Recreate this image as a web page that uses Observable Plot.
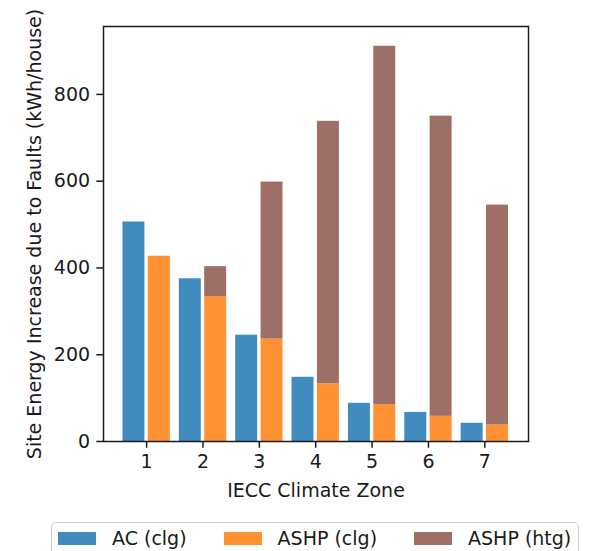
<!DOCTYPE html>
<html>
<head>
<meta charset="utf-8">
<script src="https://cdn.jsdelivr.net/npm/d3@7"></script>
<script src="https://cdn.jsdelivr.net/npm/@observablehq/plot@0.6"></script>
<style>
  html, body { margin: 0; padding: 0; background: #fff; }
  #wrap { position: relative; width: 593px; height: 551px; overflow: hidden; font-family: "DejaVu Sans", sans-serif; }
  #legend {
    position: absolute; left: 51px; top: 522px; width: 528px; height: 48px;
    border: 1px solid #cccccc; border-radius: 5px; box-sizing: border-box;
    display: flex; flex-wrap: nowrap; align-items: flex-start; padding: 8px 0 0 6px;
    font-size: 19px; color: #1a1a1a; background: #fff; white-space: nowrap;
  }
  .item { display: flex; flex-shrink: 0; align-items: center; margin-right: 37px; line-height: 15px; white-space: nowrap; }
  .sw { width: 38px; height: 13px; margin-right: 16px; flex-shrink: 0; }
</style>
</head>
<body>
<div id="wrap"><div id="chart"></div><div id="legend"></div></div>
<script>
const zones = [1, 2, 3, 4, 5, 6, 7];
const acClg = [506, 375, 245, 148, 88, 67, 42];
const ashpClg = [427, 334, 236, 133, 85, 58, 38];
const ashpHtg = [0, 69, 362, 605, 826, 692, 507];
const yTicks = [0, 200, 400, 600, 800];
const seriesNames = ["AC (clg)", "ASHP (clg)", "ASHP (htg)"];
const seriesColors = ["#418bbf", "#ff9232", "#9d6f66"];

const barWidth = 0.45;
const rows = zones.map((z, i) => ({zone: z, ac: acClg[i], clg: ashpClg[i], htg: ashpHtg[i], total: ashpClg[i] + ashpHtg[i]}));
const ymax = d3.max(rows, d => Math.max(d.ac, d.total)) * 1.05;
const ink = "#1a1a1a";

const chart = Plot.plot({
  width: 593,
  height: 515,
  marginLeft: 103,
  marginRight: 65,
  marginTop: 26,
  marginBottom: 74,
  style: {fontFamily: "DejaVu Sans", fontSize: "19px", color: ink, background: "#fff"},
  x: {type: "linear", domain: [0.235, 7.775]},
  y: {domain: [0, ymax]},
  marks: [
    Plot.rectY(rows, {x1: d => d.zone - barWidth, x2: d => d.zone, y1: 0, y2: "ac", fill: seriesColors[0], insetLeft: 1.7, insetRight: 1.7}),
    Plot.rectY(rows, {x1: d => d.zone, x2: d => d.zone + barWidth, y1: 0, y2: "clg", fill: seriesColors[1], insetLeft: 1.7, insetRight: 1.7}),
    Plot.rectY(rows.filter(d => d.htg > 0), {x1: d => d.zone, x2: d => d.zone + barWidth, y1: "clg", y2: "total", fill: seriesColors[2], insetLeft: 1.7, insetRight: 1.7}),
    Plot.frame({stroke: ink, strokeWidth: 1.5}),
    Plot.axisX({ticks: zones, tickFormat: d => String(d), tickSize: 6.7, tickPadding: 6, strokeWidth: 1.5, stroke: ink,
      label: "IECC Climate Zone", labelAnchor: "center", labelOffset: 55, labelArrow: "none"}),
    Plot.axisY({ticks: yTicks, tickFormat: d => String(d), tickSize: 6.7, tickPadding: 6.7, strokeWidth: 1.5, stroke: ink,
      label: "Site Energy Increase due to Faults (kWh/house)", labelAnchor: "center", labelOffset: 76, labelArrow: "none"})
  ]
});
document.getElementById("chart").appendChild(chart);

const legend = document.getElementById("legend");
seriesNames.forEach((name, i) => {
  const item = document.createElement("div");
  item.className = "item";
  const sw = document.createElement("div");
  sw.className = "sw";
  sw.style.background = seriesColors[i];
  const t = document.createElement("span");
  t.textContent = name;
  item.appendChild(sw);
  item.appendChild(t);
  legend.appendChild(item);
});
</script>
</body>
</html>
